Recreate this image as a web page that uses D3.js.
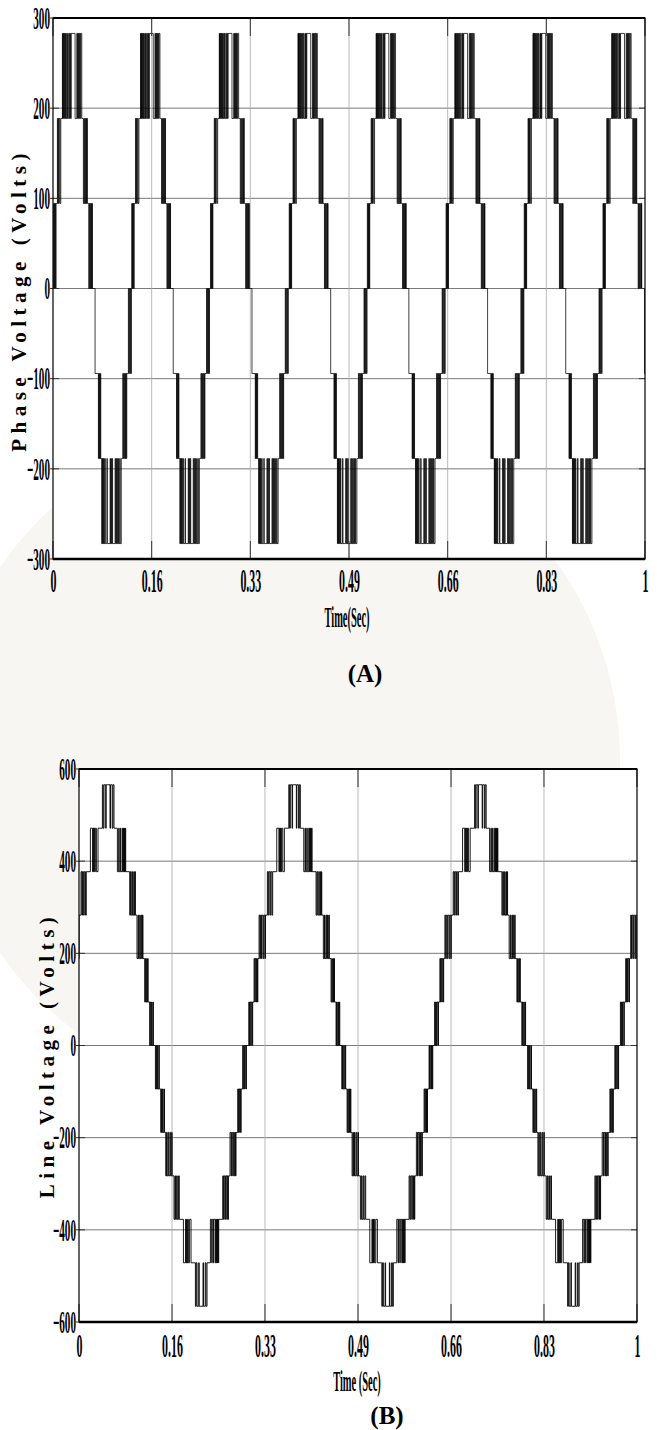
<!DOCTYPE html>
<html>
<head>
<meta charset="utf-8">
<script src="https://cdn.jsdelivr.net/npm/d3@7"></script>
<style>
  body { margin: 0; background: #fff; }
  svg { display: block; }
  text { font-family: "Liberation Serif", "Times New Roman", serif; }
</style>
</head>
<body>
<svg width="657" height="1430"></svg>
<script>
/* Axis ticks (time in seconds, voltage in volts) */
let xTickValues = [0, 0.1667, 0.3333, 0.5, 0.6667, 0.8333, 1];
let xTickLabels = ['0', '0.16', '0.33', '0.49', '0.66', '0.83', '1'];
let phaseTicks = [-300, -200, -100, 0, 100, 200, 300];
let lineTicks = [-600, -400, -200, 0, 200, 400, 600];

/* One inverter level in volts */
let stepVolts = 94.3;

/* (A) phase voltage: start of each cycle (s) */
let phaseCycleStarts = [0.001, 0.133, 0.266, 0.399, 0.531, 0.664, 0.796, 0.929];

/* (A) switching instants inside one cycle: [ms after cycle start, level] */
let phasePosHalf = [
  [0.00,1],[0.84,0],[1.35,1],[2.20,0],[2.70,1],[3.55,0],[4.05,1],
  [6.42,2],[7.26,1],[7.77,2],[8.78,1],[9.29,2],[10.81,1],[12.16,2],
  [14.86,3],[15.37,2],[15.88,3],[16.55,2],[17.23,3],[18.07,2],[18.75,3],[19.59,2],[20.27,3],[21.11,2],
  [22.30,3],[23.14,2],[23.82,3],[25.00,2],
  [26.69,3],[27.53,2],[28.21,3],[29.05,2],[29.73,3],
  [36.32,2],[39.19,3],[40.20,2],[40.88,3],[41.72,2],[42.40,3],[43.41,2],[44.09,3],[45.27,2],[46.11,3],[47.63,2],
  [50.33,1],[51.35,2],[52.02,1],[53.21,2],[53.88,1],[55.06,2],[55.74,1],[56.42,2],[57.09,1],
  [59.46,0],[60.30,1],[60.98,0],[61.99,1],[62.67,0],[63.85,1],[64.52,0],[65.03,1],[65.54,0]
];
let phaseNegHalf = [
  [70.09,-1],[75.67,-2],[76.34,-1],[76.85,-2],[77.70,-1],[78.37,-2],[79.05,-1],[79.72,-2],
  [81.41,-3],[81.92,-2],[82.59,-3],[83.27,-2],[83.95,-3],[84.79,-2],[85.47,-3],[86.65,-2],[87.32,-3],
  [90.02,-2],[90.87,-3],
  [95.43,-2],[96.11,-3],[97.12,-2],[97.80,-3],[98.98,-2],[99.66,-3],
  [103.88,-2],[104.72,-3],[105.74,-2],[106.41,-3],[107.59,-2],[108.27,-3],[109.62,-2],[110.30,-3],
  [111.82,-2],[112.49,-3],[114.35,-2],
  [116.89,-1],[117.73,-2],[118.41,-1],[119.59,-2],[120.27,-1],[121.45,-2],[122.12,-1],[122.97,-2],[123.64,-1],
  [126.34,0],[127.19,-1],[127.86,0],[129.05,-1],[129.72,0],[130.74,-1],[131.41,0]
];

/* (B) line voltage: start of each cycle (s) and half period (s) */
let lineCycleStarts = [-0.031, 0.303, 0.636, 0.969];
let lineHalfPeriod = 0.1667;

/* (B) switching instants inside one half cycle: [ms after half start, level] */
let lineHalf = [
  [1.25,1],[2.51,0],[3.40,1],[4.84,0],[5.73,1],[7.53,0],[8.24,1],
  [10.75,2],[12.01,1],[12.72,2],[14.16,1],[15.05,2],[16.84,1],[17.56,2],
  [19.71,3],[21.15,2],[22.22,3],[24.01,2],[25.09,3],[27.24,2],[28.49,3],[30.46,2],[31.18,3],
  [34.59,4],[36.20,3],[37.27,4],[39.24,3],[40.50,4],[42.65,3],[44.08,4],
  [51.43,5],[55.37,4],[56.09,5],[57.16,4],[58.06,5],[59.14,4],[60.21,5],[62.18,4],[65.05,5],
  [72.93,6],[74.37,5],[75.80,6],[78.85,5],[79.74,6],[86.55,5],[87.45,6],[90.50,5],[91.93,6],[93.72,5],
  [99.81,4],[102.14,5],[103.04,4],[105.19,5],[106.09,4],[108.77,5],[109.67,4],[110.57,5],[111.46,4],
  [112.36,5],[112.90,4],[113.97,5],[114.69,4],
  [121.86,3],[123.29,4],[124.72,3],[126.69,4],[127.59,3],[129.38,4],[130.10,3],[131.35,4],[132.07,3],
  [134.94,2],[136.91,3],[137.80,2],[139.78,3],[140.85,2],[142.28,3],[143.36,2],[144.79,3],[145.69,2],
  [148.74,1],[149.99,2],[150.89,1],[152.32,2],[153.04,1],[154.11,2],[154.83,1],
  [157.70,0],[158.59,1],[159.67,0],[161.10,1],[162.00,0],[163.61,1],[164.33,0]
];

let svg = d3.select('svg');

/* faint watermark behind the figure */
svg.append('circle').attr('cx', 280).attr('cy', 760).attr('r', 340).attr('fill', '#f8f6f2');

let phaseSeries = buildSeries(phaseCycleStarts, [
  { offset: 0, sign: 1, pattern: phasePosHalf },
  { offset: 0, sign: 1, pattern: phaseNegHalf }
]);
let lineSeries = buildSeries(lineCycleStarts, [
  { offset: 0, sign: 1, pattern: lineHalf },
  { offset: lineHalfPeriod, sign: -1, pattern: lineHalf }
]);

drawPanel({
  id: 'a', box: [53, 18, 645, 559], yDomain: [-300, 300], yTicks: phaseTicks,
  series: phaseSeries, tickDy: 33, lineWidth: 0.75,
  yLabel: 'Phase Voltage (Volts)', yLabelPos: [19, 300],
  xLabel: 'Time(Sec)', xLabelPos: [347, 617],
  caption: '(A)', captionPos: [365, 682]
});
drawPanel({
  id: 'b', box: [79, 769, 637, 1322], yDomain: [-600, 600], yTicks: lineTicks,
  series: lineSeries, tickDy: 35, lineWidth: 0.9,
  yLabel: 'Line Voltage (Volts)', yLabelPos: [46.5, 1055],
  xLabel: 'Time (Sec)', xLabelPos: [357, 1381],
  caption: '(B)', captionPos: [387, 1424]
});

function buildSeries(starts, halves) {
  let pts = [];
  starts.forEach(function(t0) {
    halves.forEach(function(h) {
      h.pattern.forEach(function(p) {
        pts.push([t0 + h.offset + p[0] / 1000, h.sign * p[1] * stepVolts]);
      });
    });
  });
  pts.sort(function(a, b) { return a[0] - b[0]; });
  let before = pts.filter(function(p) { return p[0] <= 0; });
  let out = [[0, before.length ? before[before.length - 1][1] : 0]];
  pts.forEach(function(p) { if (p[0] > 0 && p[0] < 1) out.push(p); });
  out.push([1, out[out.length - 1][1]]);
  return out;
}

function drawPanel(cfg) {
  let [x0, y0, x1, y1] = cfg.box;
  let x = d3.scaleLinear().domain([0, 1]).range([x0, x1]);
  let y = d3.scaleLinear().domain(cfg.yDomain).range([y1, y0]);
  let g = svg.append('g');

  g.append('rect').attr('x', x0).attr('y', y0).attr('width', x1 - x0).attr('height', y1 - y0).attr('fill', '#fff');

  /* grid */
  g.append('g').selectAll('line').data(cfg.yTicks.slice(1, -1)).enter().append('line')
    .attr('x1', x0).attr('x2', x1).attr('y1', y).attr('y2', y)
    .attr('stroke', '#7a7a7a').attr('stroke-width', 1);
  g.append('g').selectAll('line').data(xTickValues.slice(1, -1)).enter().append('line')
    .attr('y1', y0).attr('y2', y1).attr('x1', x).attr('x2', x)
    .attr('stroke', '#a8a8a8').attr('stroke-width', 0.8);

  /* waveform */
  g.append('clipPath').attr('id', 'clip-' + cfg.id).append('rect')
    .attr('x', x0).attr('y', y0).attr('width', x1 - x0).attr('height', y1 - y0);
  let line = d3.line().x(function(d) { return x(d[0]); }).y(function(d) { return y(d[1]); }).curve(d3.curveStepAfter);
  g.append('path').datum(cfg.series).attr('d', line)
    .attr('fill', 'none').attr('stroke', '#000').attr('stroke-width', cfg.lineWidth)
    .attr('clip-path', 'url(#clip-' + cfg.id + ')');

  /* inner tick marks */
  let tk = g.append('g').attr('stroke', '#333').attr('stroke-width', 1);
  xTickValues.forEach(function(v) {
    tk.append('line').attr('x1', x(v)).attr('x2', x(v)).attr('y1', y1).attr('y2', y1 - 18);
    tk.append('line').attr('x1', x(v)).attr('x2', x(v)).attr('y1', y0).attr('y2', y0 + 18);
  });
  cfg.yTicks.forEach(function(v) {
    tk.append('line').attr('x1', x0 - 3).attr('x2', x0 + 6).attr('y1', y(v)).attr('y2', y(v));
    tk.append('line').attr('x1', x1).attr('x2', x1 - 6).attr('y1', y(v)).attr('y2', y(v));
  });

  /* frame */
  g.append('rect').attr('x', x0).attr('y', y0).attr('width', x1 - x0).attr('height', y1 - y0)
    .attr('fill', 'none').attr('stroke', '#000').attr('stroke-width', 1.2);
  g.append('line').attr('x1', x0).attr('x2', x1).attr('y1', y0).attr('y2', y0).attr('stroke', '#000').attr('stroke-width', 2);
  g.append('line').attr('x1', x0).attr('x2', x1).attr('y1', y1).attr('y2', y1).attr('stroke', '#000').attr('stroke-width', 2.4);

  /* axes labels through d3 axes, narrow serif */
  let xAxis = d3.axisBottom(x).tickValues(xTickValues).tickFormat(function(d, i) { return xTickLabels[i]; }).tickSize(0);
  let xa = g.append('g').attr('transform', 'translate(0,' + y1 + ')').call(xAxis);
  xa.select('.domain').remove();
  xa.selectAll('text').attr('y', 0).attr('dy', 0)
    .attr('transform', 'translate(0,' + cfg.tickDy + ') scale(0.36,1)')
    .attr('font-size', 33).attr('font-weight', 'bold').attr('fill', '#000')
    .attr('font-family', '"Liberation Serif", serif');

  let yAxis = d3.axisLeft(y).tickValues(cfg.yTicks).tickFormat(d3.format('d')).tickSize(0);
  let ya = g.append('g').attr('transform', 'translate(' + x0 + ',0)').call(yAxis);
  ya.select('.domain').remove();
  ya.selectAll('text').attr('x', 0).attr('dy', '0.33em')
    .attr('transform', 'translate(-3,0) scale(0.36,1)')
    .attr('font-size', 31).attr('font-weight', 'bold').attr('fill', '#000')
    .attr('font-family', '"Liberation Serif", serif');

  g.append('text').text(cfg.xLabel)
    .attr('transform', 'translate(' + cfg.xLabelPos[0] + ',' + cfg.xLabelPos[1] + ') scale(0.36,1)')
    .attr('text-anchor', 'middle').attr('dy', '0.35em')
    .attr('font-size', 29).attr('font-weight', 'bold');

  g.append('text').text(cfg.yLabel)
    .attr('transform', 'translate(' + cfg.yLabelPos[0] + ',' + cfg.yLabelPos[1] + ') rotate(-90)')
    .attr('text-anchor', 'middle').attr('dy', '0.35em')
    .attr('font-size', 21).attr('font-weight', 'bold').attr('letter-spacing', 5.5);

  g.append('text').text(cfg.caption)
    .attr('x', cfg.captionPos[0]).attr('y', cfg.captionPos[1])
    .attr('text-anchor', 'middle').attr('font-size', 25).attr('font-weight', 'bold');
}
</script>
</body>
</html>
